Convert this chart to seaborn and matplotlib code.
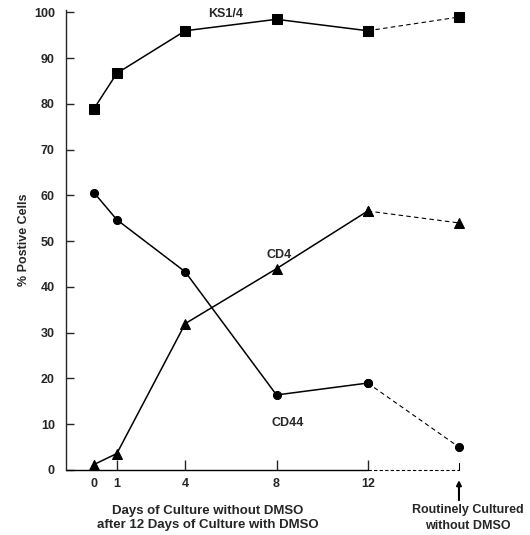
import matplotlib
matplotlib.use("Agg")
import matplotlib.pyplot as plt
import seaborn as sns
from matplotlib.transforms import blended_transform_factory

# giorni di coltura (16 = posizione "Routinely Cultured")
days = [0, 1, 4, 8, 12, 16]
day_ticks = [0, 1, 4, 8, 12]
day_labels = ["0", "1", "4", "8", "12"]

ks14 = [79, 86.7, 96, 98.5, 96, 99]
cd44 = [60.6, 54.7, 43.3, 16.4, 19, 5]
cd4 = [1.2, 3.6, 32, 44, 56.6, 54]

sns.set_style("ticks")
plt.rcParams["font.family"] = ["Liberation Sans Narrow", "Liberation Sans", "DejaVu Sans"]
plt.rcParams["font.weight"] = "bold"

fig = plt.figure(figsize=(5.3, 5.35), dpi=100)
ax = fig.add_axes([0.1245, 0.1215, 0.763, 0.8595])

series = [(ks14, "s", 7), (cd44, "o", 5.8), (cd4, "^", 6.8)]
for vals, mk, ms in series:
    # tratto continuo fino a 12 giorni
    sns.lineplot(x=days[:5], y=vals[:5], ax=ax, color="black", lw=1.1,
                 marker=mk, markersize=ms, markeredgecolor="black", clip_on=False)
    # tratto tratteggiato verso la coltura di routine
    sns.lineplot(x=days[4:], y=vals[4:], ax=ax, color="black", lw=0.8,
                 linestyle=(0, (4, 3)), marker=mk, markersize=ms,
                 markeredgecolor="black", clip_on=False)

ax.set_xlim(-1.23, 16.5)
ax.set_ylim(0, 100.5)
ax.set_yticks(range(0, 101, 10))
ax.set_xticks(day_ticks)
ax.set_xticklabels(day_labels)
ax.tick_params(axis="y", left=True, direction="in", length=6, width=1, pad=8, labelsize=9)
ax.tick_params(axis="x", bottom=True, direction="in", length=7, width=1, pad=6, labelsize=9)
for lab in ax.get_xticklabels() + ax.get_yticklabels():
    lab.set_fontweight("bold")

sns.despine(ax=ax, top=True, right=True, bottom=True)
ax.spines["left"].set_linewidth(1)

# asse x: continuo fino a 12, poi tratteggiato
ax.plot([-1.23, 12], [0, 0], color="black", lw=1, clip_on=False)
ax.plot([12, 16], [0, 0], color="black", lw=0.8, linestyle=(0, (3, 2)), clip_on=False)
ax.plot([16, 16], [0, 1.5], color="black", lw=0.8, clip_on=False)
ax.annotate("", xy=(16, -1.6), xytext=(16, -7.2),
            arrowprops=dict(arrowstyle="-|>", color="black", lw=1.5,
                            mutation_scale=7), annotation_clip=False)

ax.set_ylabel("% Postive Cells", fontsize=9, fontweight="bold", labelpad=3)
ax.set_xlabel("")

ax.text(5.75, 99.6, "KS1/4", fontsize=9, fontweight="bold", ha="center", va="center")
ax.text(8.1, 47, "CD4", fontsize=9, fontweight="bold", ha="center", va="center")
ax.text(8.5, 10.3, "CD44", fontsize=9, fontweight="bold", ha="center", va="center")

tr = blended_transform_factory(ax.transData, fig.transFigure)
ax.text(5.0, 1 - 518 / 535, "Days of Culture without DMSO\nafter 12 Days of Culture with DMSO",
        transform=tr, fontsize=9.5, fontweight="bold", ha="center", va="center",
        multialignment="center", linespacing=1.3)
ax.text(16.4, 1 - 518 / 535, "Routinely Cultured\nwithout DMSO",
        transform=tr, fontsize=9, fontweight="bold", ha="center", va="center",
        multialignment="center", linespacing=1.35)

fig.savefig("out.png", dpi=100)
